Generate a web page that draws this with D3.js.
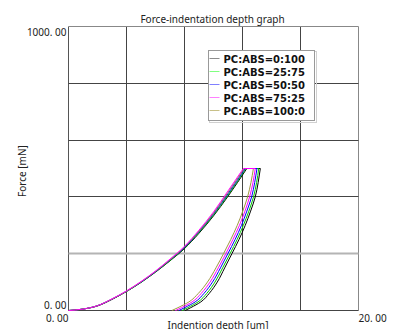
<!DOCTYPE html>
<html>
<head>
<meta charset="utf-8">
<script src="https://cdn.jsdelivr.net/npm/d3@7"></script>
<style>
  body { margin: 0; background: #fff; }
  svg { display: block; }
  text { font-family: "Noto Sans", sans-serif; fill: #222; }
</style>
</head>
<body>
<svg id="chart" width="393" height="329"></svg>
<script>
// series names (legend order)
var seriesNames = ["PC:ABS=0:100", "PC:ABS=25:75", "PC:ABS=50:50", "PC:ABS=75:25", "PC:ABS=100:0"];

// axis tick values / labels
var xGridValues = [0, 4, 8, 12, 16, 20];
var yGridValues = [0, 200, 400, 600, 800, 1000];
var xTickLabels = ["0. 00", "20. 00"];
var yTickLabels = ["0. 00", "1000. 00"];

// loading branch: depth [um] shared, force [mN] per series
var loadDepth = [0, 1, 2, 3, 4, 5, 6, 7, 8, 9, 10, 11];
var loadForce_0_100 = [0, 5, 16, 39, 67, 99, 135, 175, 218, 272, 333, 402];
var loadForce_25_75 = [0, 5, 17, 40, 67, 99, 136, 176, 220, 275, 336, 406];
var loadForce_50_50 = [0, 5, 17, 40, 68, 100, 137, 178, 222, 278, 340, 411];
var loadForce_75_25 = [0, 5, 17, 41, 69, 102, 139, 181, 226, 283, 347, 421];
var loadForce_100_0 = [0, 5, 17, 40, 68, 101, 138, 179, 224, 280, 343, 416];

// peak load and depth at end of loading / start of unloading (after hold)
var maxForce = 500;
var loadEndDepth = [12.30, 12.24, 12.18, 12.06, 12.12];
var unloadStartDepth = [13.23, 13.12, 13.00, 12.88, 12.75];

// unloading branch: force [mN] shared, depth [um] per series
var unloadForce = [500, 450, 400, 350, 300, 250, 200, 150, 100, 60, 30, 10, 0];
var unloadDepth_0_100 = [13.23, 13.08, 12.88, 12.56, 12.19, 11.76, 11.27, 10.77, 10.26, 9.70, 9.12, 8.43, 8.05];
var unloadDepth_25_75 = [13.12, 12.97, 12.76, 12.44, 12.06, 11.63, 11.14, 10.63, 10.10, 9.53, 8.93, 8.23, 7.84];
var unloadDepth_50_50 = [13.00, 12.84, 12.63, 12.30, 11.93, 11.49, 10.99, 10.48, 9.93, 9.34, 8.73, 8.01, 7.61];
var unloadDepth_75_25 = [12.88, 12.72, 12.49, 12.17, 11.79, 11.34, 10.85, 10.33, 9.76, 9.15, 8.52, 7.79, 7.38];
var unloadDepth_100_0 = [12.75, 12.58, 12.35, 12.02, 11.64, 11.19, 10.69, 10.17, 9.58, 8.95, 8.30, 7.55, 7.13];

var loadForces = [loadForce_0_100, loadForce_25_75, loadForce_50_50, loadForce_75_25, loadForce_100_0];
var unloadDepths = [unloadDepth_0_100, unloadDepth_25_75, unloadDepth_50_50, unloadDepth_75_25, unloadDepth_100_0];

var lineColors = ["#000000", "#00c800", "#0000ff", "#ff00ff", "#a09640"];
var legendColors = ["#8c8c8c", "#80ff80", "#8080ff", "#ff80ff", "#c8c088"];

var svg = d3.select("#chart");
var margin = { left: 68.5, right: 358.5, top: 26.5, bottom: 310.5 };

var x = d3.scaleLinear().domain([0, 20]).range([margin.left, margin.right]);
var y = d3.scaleLinear().domain([0, 1000]).range([margin.bottom, margin.top]);

// title
svg.append("text")
    .attr("x", 212.5).attr("y", 23)
    .attr("text-anchor", "middle")
    .style("font-size", "10px")
    .text("Force-indentation depth graph");

// grid
var grid = svg.append("g");
grid.selectAll(".vgrid")
    .data(xGridValues)
    .enter().append("line")
    .attr("x1", function (d) { return Math.round(x(d) - 0.5) + 0.5; })
    .attr("x2", function (d) { return Math.round(x(d) - 0.5) + 0.5; })
    .attr("y1", margin.top).attr("y2", margin.bottom)
    .attr("stroke", function (d, i) { return i == 0 ? "#555" : (i == xGridValues.length - 1 ? "#888" : "#444"); })
    .attr("stroke-width", 1);

grid.selectAll(".hgrid")
    .data(yGridValues)
    .enter().append("line")
    .attr("x1", margin.left).attr("x2", margin.right)
    .attr("y1", function (d) { return Math.round(y(d) - 0.5) + 0.5; })
    .attr("y2", function (d) { return Math.round(y(d) - 0.5) + 0.5; })
    .attr("stroke", function (d) { return d == 200 ? "#b4b4b4" : (d == 1000 ? "#888" : "#444"); })
    .attr("stroke-width", function (d) { return d == 200 ? 2 : 1; });

// tick labels
svg.append("text")
    .attr("x", margin.left - 2).attr("y", 36)
    .attr("text-anchor", "end").style("font-size", "10px")
    .text(yTickLabels[1]);
svg.append("text")
    .attr("x", margin.left - 2).attr("y", 308.5)
    .attr("text-anchor", "end").style("font-size", "10px")
    .text(yTickLabels[0]);
svg.append("text")
    .attr("x", margin.left).attr("y", 321.5)
    .attr("text-anchor", "end").style("font-size", "10px")
    .text(xTickLabels[0]);
svg.append("text")
    .attr("x", margin.right).attr("y", 321.5)
    .attr("text-anchor", "start").style("font-size", "10px")
    .text(xTickLabels[1]);

// axis titles
svg.append("text")
    .attr("x", 218).attr("y", 329)
    .attr("text-anchor", "middle").style("font-size", "10px")
    .text("Indention depth [um]");
svg.append("text")
    .attr("transform", "translate(26,171) rotate(-90)")
    .attr("text-anchor", "middle").style("font-size", "10px")
    .text("Force [mN]");

// curves
var lineLoad = d3.line()
    .x(function (d) { return x(d[0]); })
    .y(function (d) { return y(d[1]); })
    .curve(d3.curveMonotoneX);
var lineStraight = d3.line()
    .x(function (d) { return x(d[0]); })
    .y(function (d) { return y(d[1]); });
var lineUnload = d3.line()
    .x(function (d) { return x(d[0]); })
    .y(function (d) { return y(d[1]); })
    .curve(d3.curveMonotoneY);

var drawOrder = [0, 1, 2, 4, 3];
var curves = svg.append("g").attr("fill", "none").attr("stroke-width", 1);

drawOrder.forEach(function (s) {
    var load = loadDepth.map(function (h, i) { return [h, loadForces[s][i]]; });
    load.push([loadEndDepth[s], maxForce]);
    var hold = [[loadEndDepth[s], maxForce], [unloadStartDepth[s], maxForce]];
    var unload = unloadForce.map(function (p, i) { return [unloadDepths[s][i], p]; });

    curves.append("path").attr("d", lineLoad(load)).attr("stroke", lineColors[s]);
    curves.append("path").attr("d", lineStraight(hold)).attr("stroke", lineColors[s]);
    curves.append("path").attr("d", lineUnload(unload)).attr("stroke", lineColors[s]);
});

// legend
var legend = svg.append("g").attr("transform", "translate(208.5,50.5)");
legend.append("rect")
    .attr("x", 1).attr("y", 1).attr("width", 107).attr("height", 71)
    .attr("fill", "none").attr("stroke", "#d0d0d0");
legend.append("rect")
    .attr("width", 106).attr("height", 70)
    .attr("fill", "#fff").attr("stroke", "#999");

var item = legend.selectAll(".item")
    .data(seriesNames)
    .enter().append("g")
    .attr("transform", function (d, i) { return "translate(0," + (8 + i * 13) + ")"; });
item.append("line")
    .attr("x1", 1).attr("x2", 11).attr("y1", 0).attr("y2", 0)
    .attr("stroke", function (d, i) { return legendColors[i]; });
item.append("text")
    .attr("x", 15).attr("y", 4)
    .style("font-size", "10px").style("font-weight", "bold")
    .style("font-family", "'DejaVu Sans', sans-serif")
    .style("fill", "#111")
    .text(function (d) { return d; });
</script>
</body>
</html>
